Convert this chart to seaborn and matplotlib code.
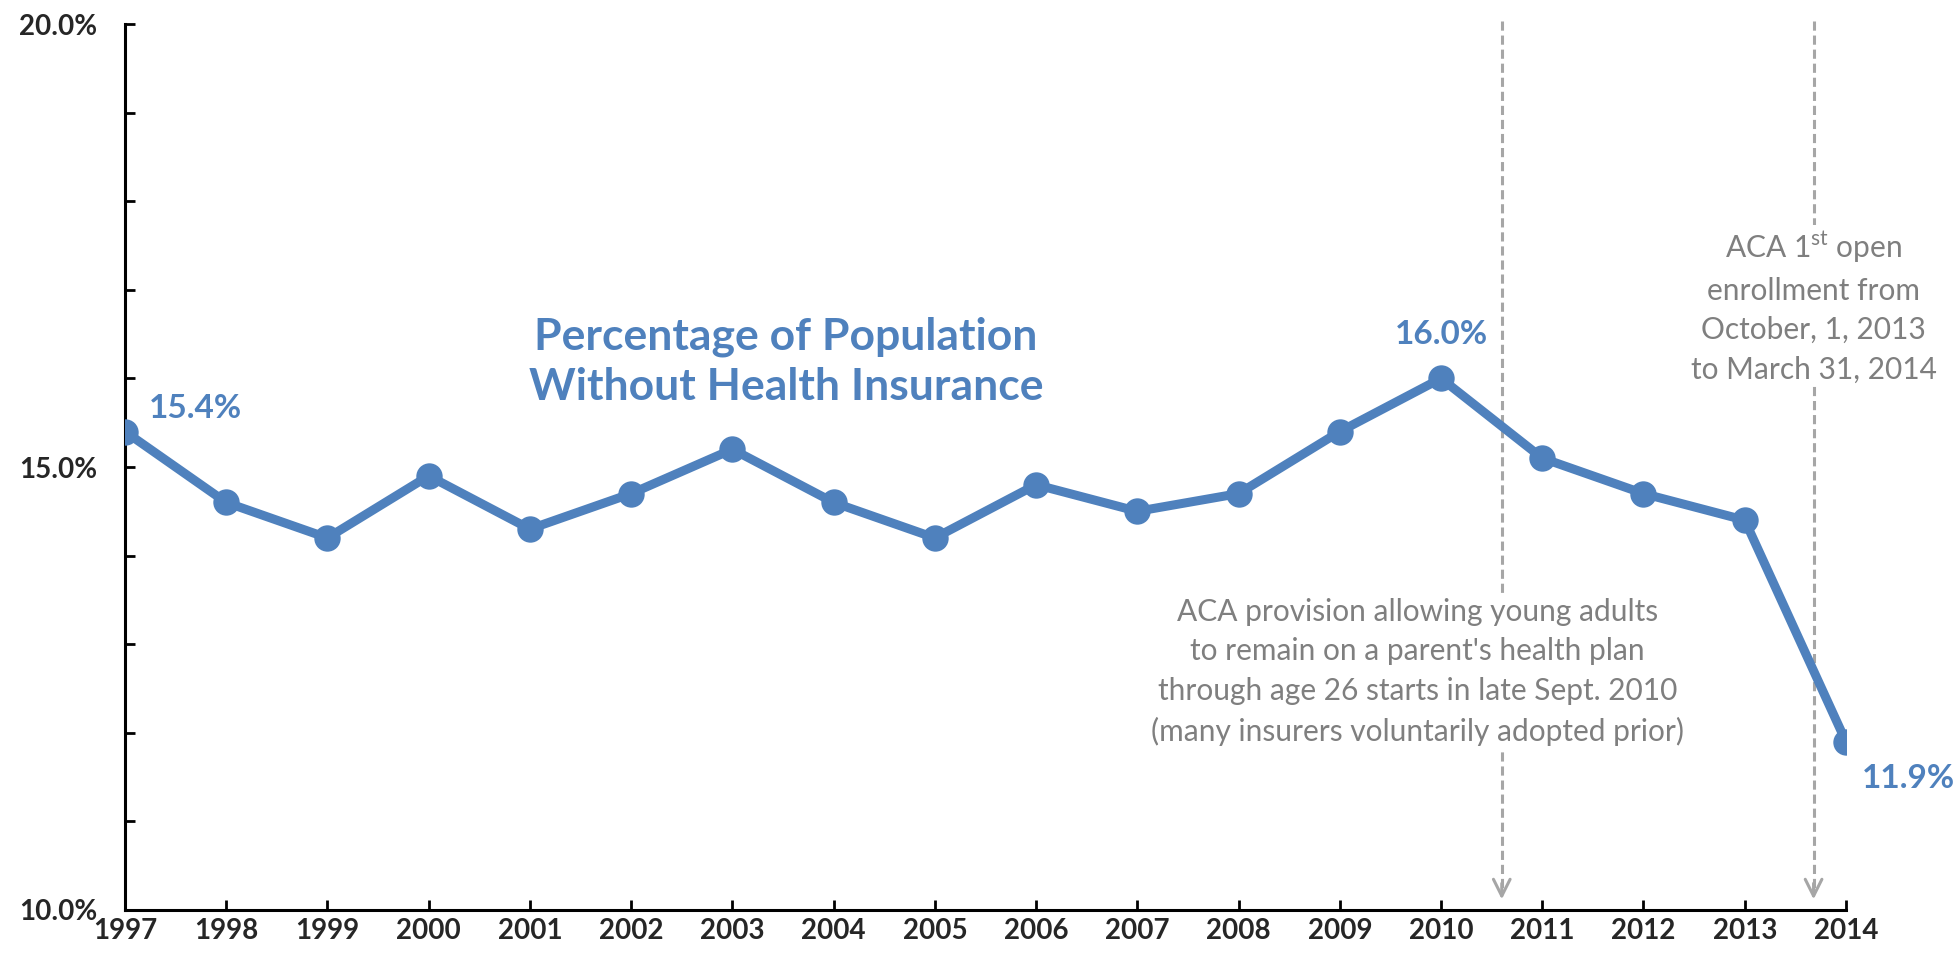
import numpy as np
import pandas as pd
import seaborn as sns
import matplotlib
matplotlib.use("Agg")
from matplotlib import pyplot as plt
from matplotlib.ticker import MultipleLocator, FixedLocator

# uninsured rate by year
years = list(range(1997, 2015))
rates = [15.4, 14.6, 14.2, 14.9, 14.3, 14.7, 15.2, 14.6, 14.2, 14.8,
         14.5, 14.7, 15.4, 16.0, 15.1, 14.7, 14.4, 11.9]
labelled_years = [1997, 2010, 2014]

title_text = "Percentage of Population\nWithout Health Insurance"
note_2010 = ("ACA provision allowing young adults\n"
             "to remain on a parent's health plan\n"
             "through age 26 starts in late Sept. 2010\n"
             "(many insurers voluntarily adopted prior)")
note_2013 = ("ACA 1$^{\\mathrm{st}}$ open\n"
             "enrollment from\n"
             "October, 1, 2013\n"
             "to March 31, 2014")
event_x = [2010.6, 2013.68]

blue = "#4F81BD"
grey = "#7F7F7F"
dash_grey = "#A6A6A6"

sns.set_style("white")
plt.rcParams["font.family"] = ["Lato", "DejaVu Sans"]
plt.rcParams["mathtext.fontset"] = "custom"
plt.rcParams["mathtext.rm"] = "Lato"

df = pd.DataFrame({"year": years, "rate": rates})

fig = plt.figure(figsize=(19.59, 9.65), dpi=100)
ax = fig.add_axes([0.0638, 0.057, 0.8785, 0.9181])

sns.lineplot(data=df, x="year", y="rate", ax=ax, color=blue, linewidth=6.5,
             marker="o", markersize=19, markeredgewidth=0, zorder=5)

ax.set_xlim(1997, 2014)
ax.set_ylim(10, 20)
ax.set_xlabel("")
ax.set_ylabel("")

# axes styling
for side in ["top", "right"]:
    ax.spines[side].set_visible(False)
for side in ["left", "bottom"]:
    ax.spines[side].set_linewidth(2.2)
    ax.spines[side].set_color("black")

ax.xaxis.set_major_locator(FixedLocator(years))
ax.set_xticklabels([str(y) for y in years], fontsize=20, fontweight="bold")
ax.yaxis.set_major_locator(FixedLocator([10, 15, 20]))
ax.yaxis.set_minor_locator(MultipleLocator(1))
ax.set_yticklabels(["10.0%", "15.0%", "20.0%"], fontsize=20, fontweight="bold")
ax.tick_params(axis="x", bottom=True, direction="in", length=7, width=2,
               pad=6, color="black")
ax.tick_params(axis="y", which="both", left=True, direction="in", length=7,
               width=2, pad=20, color="black")
ax.grid(False)

# value labels
offsets = {1997: (0.7, 0.26), 2010: (0, 0.5), 2014: (0.62, -0.42)}
for yr in labelled_years:
    v = rates[years.index(yr)]
    dx, dy = offsets[yr]
    ax.text(yr + dx, v + dy, f"{v:.1f}%", color=blue, fontsize=24,
            fontweight="bold", ha="center", va="center", clip_on=False)

ax.text(2003.53, 16.19, title_text, color=blue, fontsize=32,
        fontweight="bold", ha="center", va="center", linespacing=1.3)

# event markers
for x in event_x:
    ax.plot([x, x], [20.03, 10.2], color=dash_grey, linestyle=(0, (3, 1.6)),
            linewidth=2.2, zorder=2, clip_on=False)
    ax.annotate("", xy=(x, 10.12), xytext=(x, 10.3),
                arrowprops=dict(arrowstyle="->", color=dash_grey, lw=2.2,
                                mutation_scale=30, shrinkA=0, shrinkB=0),
                zorder=2)

ax.text(2009.77, 12.69, note_2010, color=grey, fontsize=21.5, ha="center",
        va="center", linespacing=1.5, zorder=3,
        bbox=dict(facecolor="white", edgecolor="none", pad=2))
ax.text(event_x[1], 16.81, note_2013, color=grey, fontsize=21.5, ha="center",
        va="center", linespacing=1.5, zorder=3,
        bbox=dict(facecolor="white", edgecolor="none", pad=2))

fig.savefig("out.png", dpi=100)
